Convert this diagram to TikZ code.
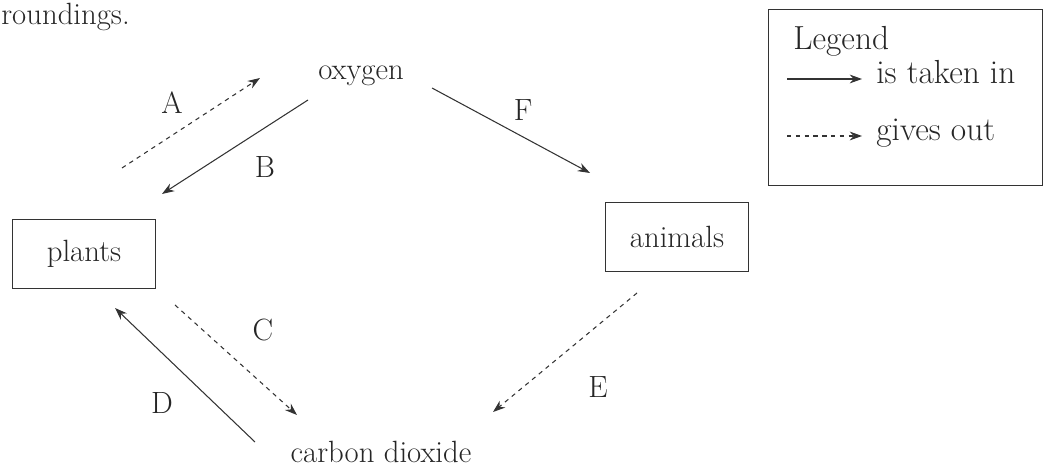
\documentclass[tikz,border=0pt]{standalone}
\usepackage{fontspec}
\usetikzlibrary{arrows.meta}
\begin{document}
\begin{tikzpicture}[
        x=0.02cm, y=-0.02cm,
        txt/.style={font=\fontsize{17.5}{20}\selectfont, text=black!85, inner sep=0pt},
        lgd/.style={txt, font=\fontsize{19}{22}\selectfont},
        box/.style={draw=black!80, thin, minimum width=2.87cm, minimum height=1.38cm, font=\fontsize{17.5}{20}\selectfont, text=black!85},
        takenin/.style={-{Stealth[length=7pt,width=5pt]}, line width=0.6pt, draw=black!80},
        givesout/.style={takenin, dash pattern=on 2.5pt off 2.5pt}
    ]
    \useasboundingbox (0,0) rectangle (1047,475);

    % === text and boxes ===
    \node[txt, anchor=base west] (top) at (1,25) {roundings.};
    \node[txt, anchor=base] (oxy) at (361,80) {oxygen};
    \node[box] (plants) at (84,254) {plants};
    \node[box] (animals) at (677,237) {animals};
    \node[txt, anchor=base] (co2) at (381,463) {carbon dioxide};

    % === arrows ===
    \coordinate (a1) at (122,168); \coordinate (a2) at (260,78);
    \coordinate (b1) at (308,100); \coordinate (b2) at (162,194);
    \coordinate (f1) at (432,88);  \coordinate (f2) at (590,173);
    \coordinate (c1) at (175,305); \coordinate (c2) at (297,415);
    \coordinate (d1) at (255,442); \coordinate (d2) at (115,308);
    \coordinate (e1) at (637,293); \coordinate (e2) at (493,412);
    \draw[givesout] (a1) -- (a2);
    \draw[takenin] (b1) -- (b2);
    \draw[takenin] (f1) -- (f2);
    \draw[givesout] (c1) -- (c2);
    \draw[takenin] (d1) -- (d2);
    \draw[givesout] (e1) -- (e2);

    % === letters ===
    \node[txt] (lA) at (172,103) {A};
    \node[txt] (lB) at (265,167) {B};
    \node[txt] (lC) at (263,330) {C};
    \node[txt] (lD) at (162,403) {D};
    \node[txt] (lE) at (598,387) {E};
    \node[txt] (lF) at (523,110) {F};

    % === legend ===
    \node[box, minimum width=5.48cm, minimum height=3.52cm] (legend) at (905,97) {};
    \node[lgd, anchor=base west] (lgdtitle) at (793,50) {Legend};
    \coordinate (in1) at (787,79);  \coordinate (in2) at (862,79);
    \coordinate (out1) at (787,136); \coordinate (out2) at (862,136);
    \draw[takenin] (in1) -- (in2);
    \draw[givesout] (out1) -- (out2);
    \node[lgd, anchor=base west] (lgdin) at (876,84) {is taken in};
    \node[lgd, anchor=base west] (lgdout) at (876,141) {gives out};
\end{tikzpicture}
\end{document}
